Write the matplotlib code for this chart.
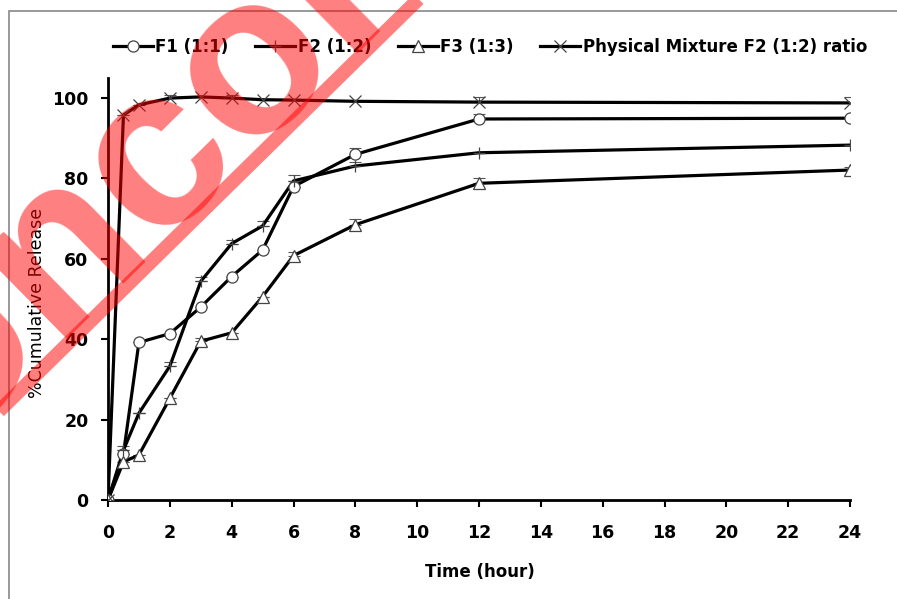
import matplotlib.pyplot as plt
from matplotlib.patches import Rectangle
from matplotlib.lines import Line2D

# sampling times (hour)
time_h = [0, 0.5, 1, 2, 3, 4, 5, 6, 8, 12, 24]

# % cumulative release
f1 = [0, 11.5, 39.2, 41.4, 48.0, 55.6, 62.2, 78.0, 86.0, 94.8, 95.0]
f2 = [0, 12.4, 21.6, 33.3, 54.4, 63.8, 68.2, 79.4, 83.1, 86.4, 88.3]
f3 = [0, 9.5, 11.2, 25.3, 39.5, 41.6, 50.6, 60.8, 68.5, 78.8, 82.1]
pm = [0, 95.8, 98.3, 100.0, 100.3, 100.0, 99.6, 99.5, 99.2, 99.0, 98.8]

# upper error bars (SD)
f1_err = [0, 0, 0, 0, 0, 0, 0, 0, 1.6, 1.2, 0]
f2_err = [0, 1.0, 0, 1.0, 1.2, 1.0, 1.2, 1.4, 1.0, 0, 0]
f3_err = [0, 0, 0, 0, 0.8, 0, 0, 1.0, 1.4, 1.4, 0.8]
pm_err = [0, 0, 0, 0.8, 0, 0.8, 0, 0, 0, 1.2, 1.4]

labels = ['F1 (1:1)', 'F2 (1:2)', 'F3 (1:3)', 'Physical Mixture F2 (1:2) ratio']
markers = ['o', '+', '^', 'x']

W, H = 897, 599
fig = plt.figure(figsize=(W / 100, H / 100), dpi=100)
ax = fig.add_axes([108 / W, 1 - 500 / H, (850 - 108) / W, (500 - 78) / H])

handles = []
for y, err, mk, lab in zip([f1, f2, f3, pm], [f1_err, f2_err, f3_err, pm_err], markers, labels):
    ax.errorbar(time_h, y, yerr=[[0] * len(err), err], fmt='none', ecolor='#555555',
                elinewidth=0.8, capsize=4, capthick=0.8, zorder=2)
    ax.plot(time_h, y, color='black', lw=2.3, zorder=3)
    ms = 9 if mk in ('+', 'x') else 8
    ax.plot(time_h, y, ls='none', marker=mk, ms=ms, mfc='white', mec='#444444',
            mew=0.9, zorder=4)
    handles.append(Line2D([], [], color='black', lw=2.3, marker=mk, ms=ms,
                          mfc='white', mec='#444444', mew=0.9))

ax.set_xlim(0, 24)
ax.set_ylim(0, 105)
ax.set_xticks(range(0, 25, 2))
ax.set_yticks(range(0, 101, 20))
for s in ['top', 'right']:
    ax.spines[s].set_visible(False)
for s in ['left', 'bottom']:
    ax.spines[s].set_linewidth(2)
ax.tick_params(direction='out', length=5, width=1.5)
ax.tick_params(axis='x', pad=12)
ax.tick_params(axis='y', pad=9)
for t in ax.get_xticklabels() + ax.get_yticklabels():
    t.set_fontweight('bold')
    t.set_fontsize(12.5)

fig.text(480 / W, 1 - 572 / H, 'Time (hour)', ha='center', va='center',
         fontsize=12, fontweight='bold')
fig.text(37 / W, 1 - 303 / H, '%Cumulative Release', ha='center', va='center',
         rotation=90, fontsize=12.5)

fig.legend(handles, labels, loc='center', bbox_to_anchor=(490 / W, 1 - 47 / H),
           ncol=4, frameon=False, handlelength=2.4, handletextpad=0.15,
           columnspacing=1.6, prop={'weight': 'bold', 'size': 12})

# outer chart border
fig.patches.append(Rectangle((9 / W, -0.1), 1.2, 1 - 11 / H + 0.1,
                             transform=fig.transFigure, fill=False,
                             edgecolor='#888888', lw=1.2))

# watermark
fig.text(-62 / W, 1 - 465 / H, 'Uncorrected Proof', rotation=44.5,
         rotation_mode='anchor', ha='left', va='baseline', fontsize=165,
         family='Liberation Sans', fontweight='bold', color='red', alpha=0.5,
         zorder=10)
fig.add_artist(Line2D([-10 / W, 440 / W], [1 - 420 / H, 1 - (-22) / H],
                      transform=fig.transFigure, color='red', alpha=0.5,
                      lw=10, solid_capstyle='butt', zorder=10))

fig.savefig('out.png', dpi=100)
